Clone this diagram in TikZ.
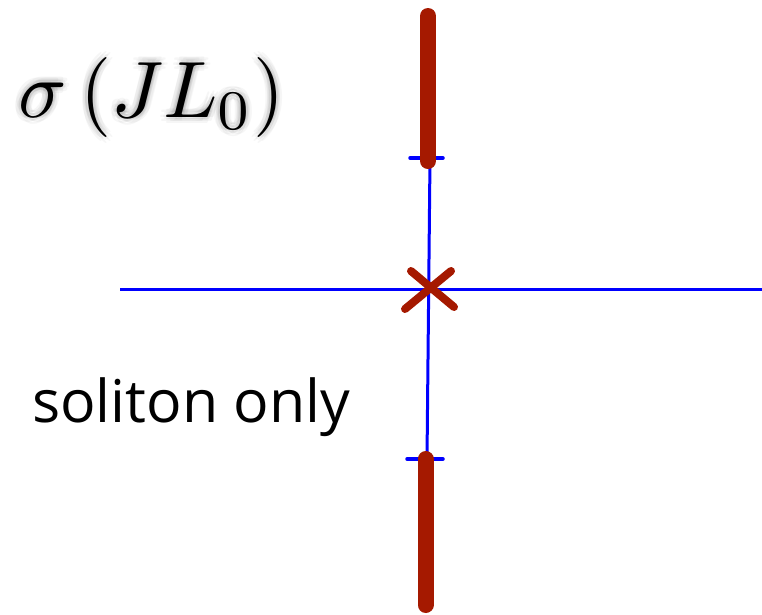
\documentclass[tikz,border=0pt]{standalone}
\usepackage{amsmath,amssymb}
\usepackage{graphicx}
\usepackage{fontspec}
\setsansfont{Open Sans}
\usetikzlibrary{calc}
\definecolor{barred}{RGB}{165,25,0}
\definecolor{axisblue}{RGB}{0,0,255}
\newcommand{\sigmalabel}{\scalebox{8}{$\sigma\left(JL_0\right)$}}
\tikzset{
  axisline/.style={draw=axisblue,line width=3pt},
  tickline/.style={draw=axisblue,line width=3.5pt,line cap=round},
  barline/.style={draw=barred,line width=16pt,line cap=round},
  crossline/.style={draw=barred,line width=8pt,line cap=round},
  mathlabel/.style={inner sep=0pt,anchor=base west,font=\fontsize{10}{12}\selectfont},
  textlabel/.style={inner sep=0pt,anchor=base west,font=\sffamily\fontsize{59}{70}\selectfont},
}
\begin{document}
\begin{tikzpicture}[x=1pt,y=-1pt]
\useasboundingbox (0,0) rectangle (762,614);
% coordinates
\coordinate (hl) at (120,289);
\coordinate (hr) at (762,289);
\coordinate (vt) at (430,158);
\coordinate (vb) at (427,459);
\coordinate (ttl) at (410,158);
\coordinate (ttr) at (443,158);
\coordinate (btl) at (407,459);
\coordinate (btr) at (443,459);
\coordinate (rt1) at (428,16);
\coordinate (rt2) at (428,161);
\coordinate (rb1) at (425.5,459);
\coordinate (rb2) at (425.5,605);
\coordinate (xa1) at (405,309);
\coordinate (xa2) at (451,271);
\coordinate (xb1) at (411,271);
\coordinate (xb2) at (454,307);
% axes
\draw[axisline] (hl) -- (hr);
\draw[axisline] (vt) -- (vb);
\draw[tickline] (ttl) -- (ttr);
\draw[tickline] (btl) -- (btr);
% bars
\draw[barline] (rt1) -- (rt2);
\draw[barline] (rb1) -- (rb2);
% cross
\draw[crossline] (xa1) -- (xa2);
\draw[crossline] (xb1) -- (xb2);
% label shadow
\foreach \r in {3,6}{
  \foreach \a in {0,45,...,315}{
    \node[mathlabel,text=black,opacity=0.035] at ($(18,117)+(\a:\r)$) {\sigmalabel};
  }
}
\node[mathlabel] (lab) at (18,117) {\sigmalabel};
\node[textlabel] (sol) at (32,422) {soliton only};
\end{tikzpicture}
\end{document}
